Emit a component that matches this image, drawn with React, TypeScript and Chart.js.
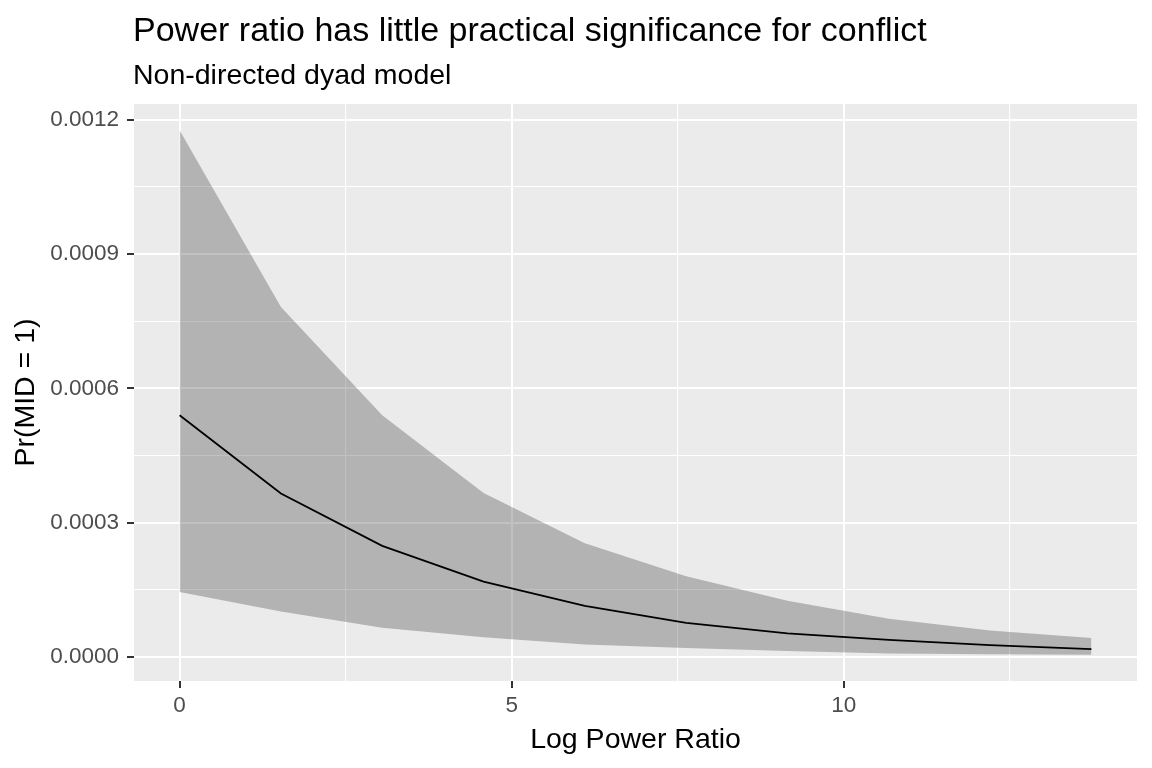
import { useEffect, useRef } from 'react';
import { Chart, registerables } from 'chart.js';

Chart.register(...registerables);

// log power ratio grid (10 points)
const logPowerRatio = [0, 1.526, 3.051, 4.577, 6.102, 7.628, 9.153, 10.679, 12.204, 13.73];
// predicted Pr(MID = 1) and its interval
const prMid = [0.00054, 0.000365, 0.000248, 0.000168, 0.000114, 0.000076, 0.0000523, 0.000038, 0.0000262, 0.0000172];
const prUpper = [0.001177, 0.000782, 0.00054, 0.000366, 0.000254, 0.00018, 0.000125, 0.000085, 0.000059, 0.0000418];
const prLower = [0.000145, 0.000101, 0.0000648, 0.0000434, 0.0000273, 0.0000195, 0.0000127, 0.0000076, 0.0000054, 0.0000045];

const xMajor = [0, 5, 10];
const xMinor = [2.5, 7.5, 12.5];
const yMajor = [0, 0.0003, 0.0006, 0.0009, 0.0012];
const yMinor = [0.00015, 0.00045, 0.00075, 0.00105];

const titleText = 'Power ratio has little practical significance for conflict';
const subtitleText = 'Non-directed dyad model';

const FONT = "'Liberation Sans', Arial, sans-serif";

// ggplot-style 5% expansion
function expand(vals: number[]) {
  const lo = Math.min(...vals);
  const hi = Math.max(...vals);
  const pad = (hi - lo) * 0.05;
  return [lo - pad, hi + pad];
}

const panelBg = {
  id: 'panelBg',
  beforeDraw(chart: Chart) {
    const { ctx, chartArea } = chart;
    ctx.save();
    ctx.fillStyle = '#EBEBEB';
    ctx.fillRect(chartArea.left, chartArea.top, chartArea.right - chartArea.left, chartArea.bottom - chartArea.top);
    ctx.restore();
  },
  afterDraw(chart: Chart) {
    const { ctx, chartArea } = chart;
    ctx.save();
    ctx.fillStyle = '#000000';
    ctx.textAlign = 'left';
    ctx.textBaseline = 'alphabetic';
    ctx.font = `34px ${FONT}`;
    ctx.fillText(titleText, chartArea.left - 1, 41);
    ctx.font = `28.5px ${FONT}`;
    ctx.fillText(subtitleText, chartArea.left - 1, 84);
    ctx.restore();
  },
};

export default function App() {
  const chartRef = useRef<HTMLCanvasElement>(null);
  const chartInstanceRef = useRef<Chart | null>(null);

  useEffect(() => {
    if (!chartRef.current) return;
    const ctx = chartRef.current.getContext('2d');
    if (!ctx) return;

    if (chartInstanceRef.current) {
      chartInstanceRef.current.destroy();
    }

    const [xMin, xMax] = expand(logPowerRatio);
    const [yMin, yMax] = expand([...prLower, ...prUpper]);
    const xTicks = [...xMajor, ...xMinor].sort((a, b) => a - b);
    const yTicks = [...yMajor, ...yMinor].sort((a, b) => a - b);

    const pts = (ys: number[]) => logPowerRatio.map((x, i) => ({ x, y: ys[i] }));

    chartInstanceRef.current = new Chart(ctx, {
      type: 'line',
      data: {
        datasets: [
          {
            label: 'Pr(MID = 1)',
            data: pts(prMid),
            borderColor: '#000000',
            borderWidth: 1.8,
            pointRadius: 0,
            tension: 0,
            fill: false,
          },
          {
            label: 'upper',
            data: pts(prUpper),
            borderColor: 'rgba(0,0,0,0)',
            borderWidth: 0,
            backgroundColor: 'rgba(51,51,51,0.3)',
            pointRadius: 0,
            tension: 0,
            fill: '+1',
          },
          {
            label: 'lower',
            data: pts(prLower),
            borderColor: 'rgba(0,0,0,0)',
            borderWidth: 0,
            pointRadius: 0,
            tension: 0,
            fill: false,
          },
        ],
      },
      options: {
        animation: false,
        responsive: false,
        maintainAspectRatio: false,
        layout: { padding: { top: 104, right: 15, left: 0, bottom: 0 } },
        plugins: {
          legend: { display: false },
          tooltip: { enabled: false },
        },
        scales: {
          x: {
            type: 'linear',
            min: xMin,
            max: xMax,
            afterBuildTicks: (scale: any) => {
              scale.ticks = xTicks.map((v) => ({ value: v }));
            },
            afterFit: (scale: any) => {
              scale.height = 87;
            },
            border: { display: false },
            grid: {
              color: '#FFFFFF',
              lineWidth: (c: any) => (xMajor.includes(c.tick?.value) ? 2 : 1.1),
              tickColor: (c: any) => (xMajor.includes(c.tick?.value) ? '#333333' : 'rgba(0,0,0,0)'),
              tickWidth: 2,
              tickLength: 7,
            },
            ticks: {
              autoSkip: false,
              maxRotation: 0,
              padding: 4,
              color: '#4D4D4D',
              font: { family: FONT, size: 22.5 },
              callback: (v: any) => (xMajor.includes(v) ? String(v) : ''),
            },
            title: {
              display: true,
              text: 'Log Power Ratio',
              color: '#000000',
              font: { family: FONT, size: 28.5 },
              padding: { top: 0, bottom: 11 },
            },
          },
          y: {
            type: 'linear',
            min: yMin,
            max: yMax,
            afterBuildTicks: (scale: any) => {
              scale.ticks = yTicks.map((v) => ({ value: v }));
            },
            afterFit: (scale: any) => {
              scale.width = 134;
            },
            border: { display: false },
            grid: {
              color: '#FFFFFF',
              lineWidth: (c: any) => (yMajor.includes(c.tick?.value) ? 2 : 1.1),
              tickColor: (c: any) => (yMajor.includes(c.tick?.value) ? '#333333' : 'rgba(0,0,0,0)'),
              tickWidth: 2,
              tickLength: 7,
            },
            ticks: {
              autoSkip: false,
              padding: 8,
              color: '#4D4D4D',
              font: { family: FONT, size: 22.5 },
              callback: (v: any) => (yMajor.includes(v) ? Number(v).toFixed(4) : ''),
            },
            title: {
              display: true,
              text: 'Pr(MID = 1)',
              color: '#000000',
              font: { family: FONT, size: 28.5 },
              padding: { top: 9, bottom: 0 },
            },
          },
        },
      },
      plugins: [panelBg],
    });

    return () => {
      if (chartInstanceRef.current) {
        chartInstanceRef.current.destroy();
        chartInstanceRef.current = null;
      }
    };
  }, []);

  return (
    <div style={{ position: 'absolute', left: 0, top: 0, width: 1152, height: 768, background: '#FFFFFF' }}>
      <canvas ref={chartRef} width={1152} height={768} />
    </div>
  );
}
